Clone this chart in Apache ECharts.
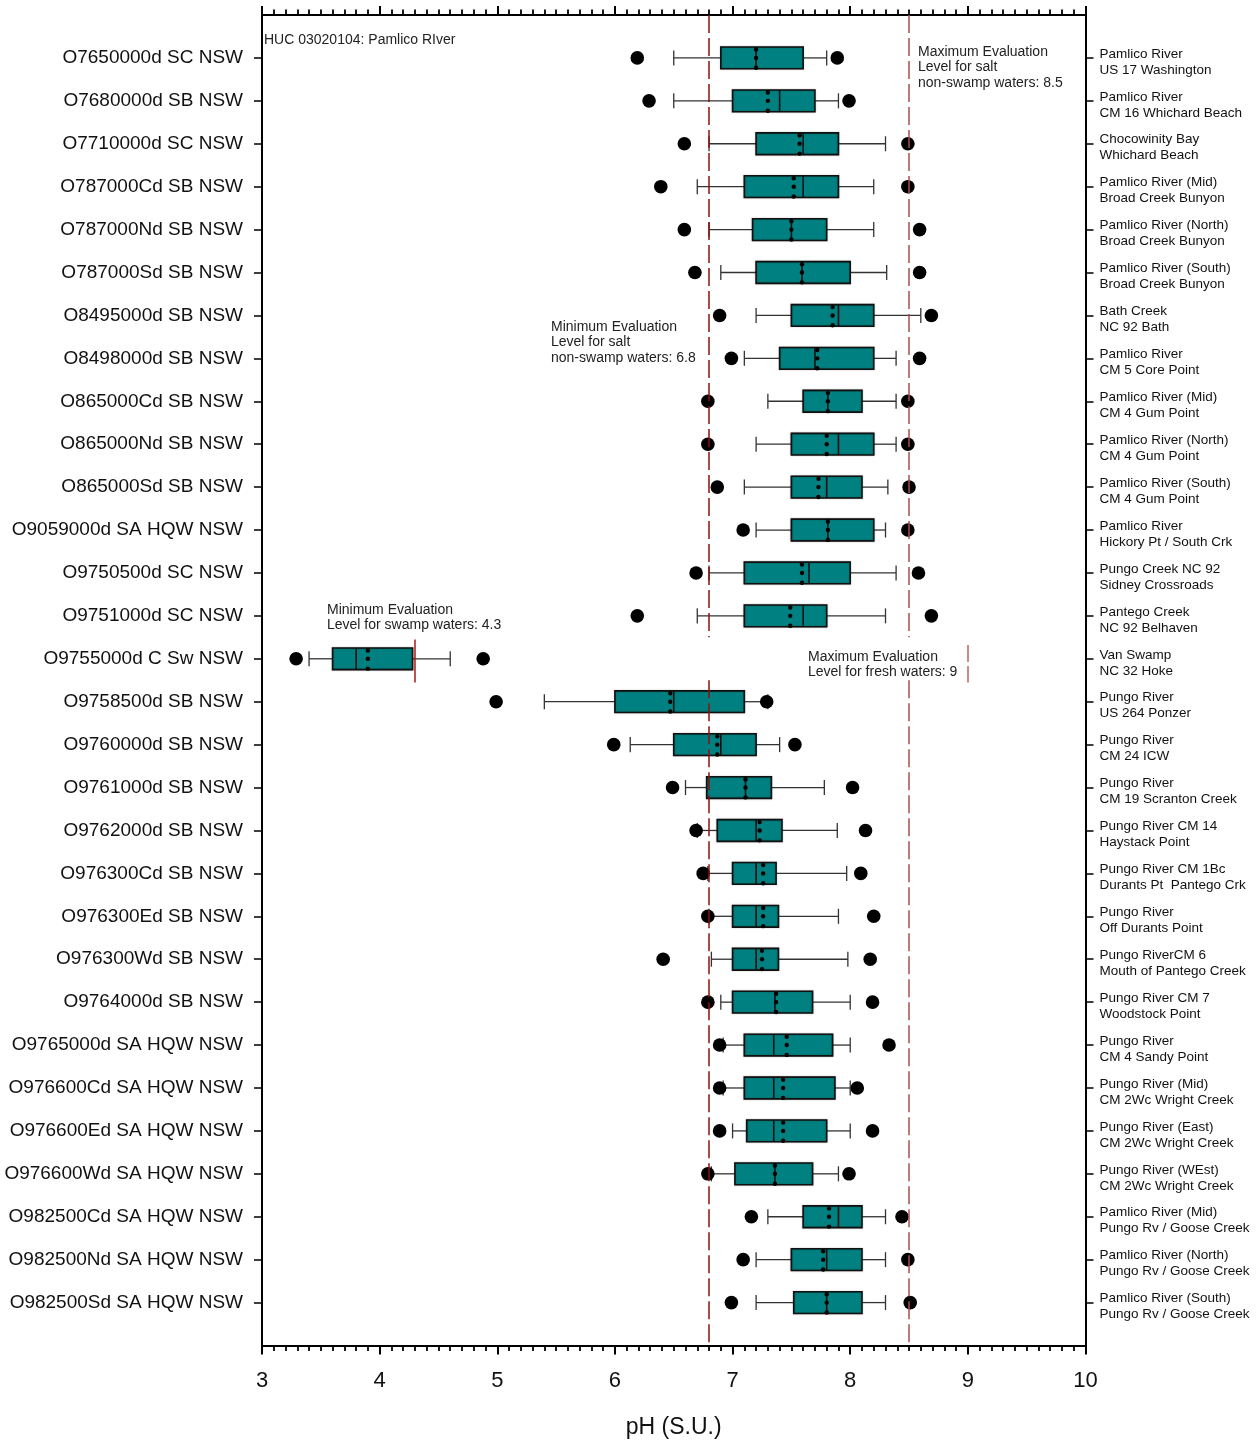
<!DOCTYPE html>
<html>
<head>
<meta charset="utf-8">
<title>pH by station - HUC 03020104 Pamlico River</title>
<script src="https://cdn.jsdelivr.net/npm/echarts@6/dist/echarts.min.js"></script>
<style>
  html, body { margin: 0; padding: 0; background: #ffffff; }
  #chart { width: 1257px; height: 1442px; }
</style>
</head>
<body>
<div id="chart"></div>
<script>
// Station identifiers (left axis), top to bottom
const stations = [
  'O7650000d SC NSW', 'O7680000d SB NSW', 'O7710000d SC NSW', 'O787000Cd SB NSW',
  'O787000Nd SB NSW', 'O787000Sd SB NSW', 'O8495000d SB NSW', 'O8498000d SB NSW',
  'O865000Cd SB NSW', 'O865000Nd SB NSW', 'O865000Sd SB NSW', 'O9059000d SA HQW NSW',
  'O9750500d SC NSW', 'O9751000d SC NSW', 'O9755000d C Sw NSW', 'O9758500d SB NSW',
  'O9760000d SB NSW', 'O9761000d SB NSW', 'O9762000d SB NSW', 'O976300Cd SB NSW',
  'O976300Ed SB NSW', 'O976300Wd SB NSW', 'O9764000d SB NSW', 'O9765000d SA HQW NSW',
  'O976600Cd SA HQW NSW', 'O976600Ed SA HQW NSW', 'O976600Wd SA HQW NSW',
  'O982500Cd SA HQW NSW', 'O982500Nd SA HQW NSW', 'O982500Sd SA HQW NSW'
];

// Station descriptions (right axis)
const sites = [
  'Pamlico River\nUS 17 Washington', 'Pamlico River\nCM 16 Whichard Beach',
  'Chocowinity Bay\nWhichard Beach', 'Pamlico River (Mid)\nBroad Creek Bunyon',
  'Pamlico River (North)\nBroad Creek Bunyon', 'Pamlico River (South)\nBroad Creek Bunyon',
  'Bath Creek\nNC 92 Bath', 'Pamlico River\nCM 5 Core Point',
  'Pamlico River (Mid)\nCM 4 Gum Point', 'Pamlico River (North)\nCM 4 Gum Point',
  'Pamlico River (South)\nCM 4 Gum Point', 'Pamlico River\nHickory Pt / South Crk',
  'Pungo Creek NC 92\nSidney Crossroads', 'Pantego Creek\nNC 92 Belhaven',
  'Van Swamp\nNC 32 Hoke', 'Pungo River\nUS 264 Ponzer', 'Pungo River\nCM 24 ICW',
  'Pungo River\nCM 19 Scranton Creek', 'Pungo River CM 14\nHaystack Point',
  'Pungo River CM 1Bc\nDurants Pt  Pantego Crk', 'Pungo River\nOff Durants Point',
  'Pungo RiverCM 6\nMouth of Pantego Creek', 'Pungo River CM 7\nWoodstock Point',
  'Pungo River\nCM 4 Sandy Point', 'Pungo River (Mid)\nCM 2Wc Wright Creek',
  'Pungo River (East)\nCM 2Wc Wright Creek', 'Pungo River (WEst)\nCM 2Wc Wright Creek',
  'Pamlico River (Mid)\nPungo Rv / Goose Creek', 'Pamlico River (North)\nPungo Rv / Goose Creek',
  'Pamlico River (South)\nPungo Rv / Goose Creek'
];

// pH statistics per station (S.U.)
const p5     = [6.19, 6.29, 6.59, 6.39, 6.59, 6.68, 6.89, 6.99, 6.79, 6.79, 6.87, 7.09, 6.69, 6.19, 3.29, 4.99, 5.99, 6.49, 6.69, 6.75, 6.79, 6.41, 6.79, 6.89, 6.89, 6.89, 6.79, 7.16, 7.09, 6.99];
const p10    = [6.50, 6.50, 6.80, 6.70, 6.80, 6.90, 7.20, 7.10, 7.30, 7.20, 7.10, 7.20, 6.80, 6.70, 3.40, 5.40, 6.13, 6.60, 6.70, 6.79, 6.80, 6.82, 6.90, 6.92, 6.92, 7.00, 6.82, 7.30, 7.20, 7.20];
const q1     = [6.90, 7.00, 7.20, 7.10, 7.17, 7.20, 7.50, 7.40, 7.60, 7.50, 7.50, 7.50, 7.10, 7.10, 3.60, 6.00, 6.50, 6.78, 6.87, 7.00, 7.00, 7.00, 7.00, 7.10, 7.10, 7.12, 7.02, 7.60, 7.50, 7.52];
const median = [7.20, 7.40, 7.60, 7.60, 7.50, 7.59, 7.90, 7.70, 7.81, 7.90, 7.80, 7.81, 7.65, 7.60, 3.80, 6.50, 6.90, 7.11, 7.20, 7.20, 7.20, 7.20, 7.36, 7.35, 7.35, 7.35, 7.36, 7.90, 7.80, 7.80];
const mean   = [7.20, 7.30, 7.57, 7.52, 7.50, 7.59, 7.85, 7.72, 7.81, 7.80, 7.73, 7.81, 7.59, 7.49, 3.90, 6.47, 6.87, 7.11, 7.23, 7.26, 7.26, 7.25, 7.37, 7.46, 7.43, 7.43, 7.36, 7.82, 7.77, 7.80];
const q3     = [7.60, 7.70, 7.90, 7.90, 7.80, 8.00, 8.20, 8.20, 8.10, 8.20, 8.10, 8.20, 8.00, 7.80, 4.28, 7.10, 7.20, 7.33, 7.42, 7.37, 7.39, 7.39, 7.68, 7.85, 7.87, 7.80, 7.68, 8.10, 8.10, 8.10];
const p90    = [7.80, 7.90, 8.30, 8.20, 8.20, 8.31, 8.60, 8.39, 8.39, 8.39, 8.32, 8.30, 8.39, 8.30, 4.60, 7.30, 7.40, 7.78, 7.89, 7.97, 7.90, 7.98, 8.00, 8.00, 8.00, 8.00, 7.90, 8.30, 8.30, 8.30];
const p95    = [7.89, 7.99, 8.49, 8.49, 8.59, 8.59, 8.69, 8.59, 8.49, 8.49, 8.50, 8.49, 8.58, 8.69, 4.88, 7.29, 7.53, 8.02, 8.13, 8.09, 8.20, 8.17, 8.19, 8.33, 8.06, 8.19, 7.99, 8.44, 8.49, 8.51];

// Evaluation levels
const saltMin = 6.8, saltMax = 8.5, swampMin = 4.3, freshMax = 9;
const swampRow = 14;

const rows = stations.map((_, i) => i);
const boxData = rows.map(i => [i, p5[i], p10[i], q1[i], median[i], mean[i], q3[i], p90[i], p95[i]]);

const FONT = '"Liberation Sans", Arial, sans-serif';
const TEAL = '#008080';

function renderBox(params, api) {
  const row = api.value(0);
  const px = k => api.coord([api.value(k), row])[0];
  const y = api.coord([api.value(4), row])[1];
  const band = api.size([0, 1])[1];
  const hb = band * 0.253;   // box half height
  const hc = band * 0.175;   // whisker cap half height
  const xp5 = px(1), xp10 = px(2), xq1 = px(3), xmed = px(4), xmean = px(5), xq3 = px(6), xp90 = px(7), xp95 = px(8);
  const wStyle = { stroke: '#333', lineWidth: 1.3 };
  const kids = [
    { type: 'line', shape: { x1: xp10, y1: y, x2: xq1, y2: y }, style: wStyle },
    { type: 'line', shape: { x1: xq3, y1: y, x2: xp90, y2: y }, style: wStyle },
    { type: 'line', shape: { x1: xp10, y1: y - hc, x2: xp10, y2: y + hc }, style: wStyle },
    { type: 'line', shape: { x1: xp90, y1: y - hc, x2: xp90, y2: y + hc }, style: wStyle },
    { type: 'rect', shape: { x: xq1, y: y - hb, width: xq3 - xq1, height: 2 * hb },
      style: { fill: TEAL, stroke: '#111', lineWidth: 1.6, shadowBlur: 1.5, shadowColor: 'rgba(0,0,0,0.35)' } },
    { type: 'line', shape: { x1: xmed, y1: y - hb, x2: xmed, y2: y + hb }, style: { stroke: '#111', lineWidth: 1.6 } },
    { type: 'circle', shape: { cx: xmean, cy: y - hb + 2.5, r: 2.2 }, style: { fill: '#000' } },
    { type: 'circle', shape: { cx: xmean, cy: y, r: 2.2 }, style: { fill: '#000' } },
    { type: 'circle', shape: { cx: xmean, cy: y + hb - 1, r: 2.2 }, style: { fill: '#000' } },
    { type: 'circle', shape: { cx: xp5, cy: y, r: 6.8 }, style: { fill: '#000' } },
    { type: 'circle', shape: { cx: xp95, cy: y, r: 6.8 }, style: { fill: '#000' } }
  ];
  return { type: 'group', children: kids };
}

function xAxisBase() {
  return {
    type: 'value', min: 3, max: 10, interval: 1,
    axisLine: { show: true, onZero: false, lineStyle: { color: '#000', width: 2 } },
    axisTick: { show: true, inside: false, length: 9, lineStyle: { color: '#000', width: 2 } },
    minorTick: { show: true, splitNumber: 10, length: 5.5, lineStyle: { color: '#000', width: 1.8 } },
    splitLine: { show: false },
    minorSplitLine: { show: false }
  };
}

function yAxisBase() {
  return {
    type: 'value', min: -1, max: 30, inverse: true,
    axisLine: { show: true, onZero: false, lineStyle: { color: '#000', width: 2 } },
    axisTick: { show: true, length: 8, customValues: rows, lineStyle: { color: '#000', width: 1.5 } },
    splitLine: { show: false }
  };
}

// Two-line site description, nudged slightly below the tick by a thin spacer line
function siteLabel(v) {
  const s = sites[v];
  if (!s) return '';
  const parts = s.split('\n');
  return '{gap|}\n' + parts.map(p => '{t|' + p + '}').join('\n');
}

const vSeg = (x, y1, y2, color, type) => [
  { coord: [x, y1], lineStyle: { color: color, width: 1.5, type: type } },
  { coord: [x, y2] }
];

const option = {
  animation: false,
  backgroundColor: '#ffffff',
  textStyle: { fontFamily: FONT },
  grid: { left: 262, right: 171.5, top: 15, bottom: 96.5, containLabel: false, outerBoundsMode: 'none' },
  xAxis: [
    Object.assign(xAxisBase(), {
      position: 'bottom',
      axisLabel: { show: true, fontSize: 22, margin: 24, color: '#111', fontFamily: FONT },
      name: 'pH (S.U.)', nameLocation: 'middle', nameGap: 71,
      nameTextStyle: { fontSize: 23, color: '#111', fontFamily: FONT }
    }),
    Object.assign(xAxisBase(), { position: 'top', axisLabel: { show: false } })
  ],
  yAxis: [
    Object.assign(yAxisBase(), {
      position: 'left',
      axisLabel: { show: true, customValues: rows, formatter: v => stations[v] || '',
        fontSize: 19, margin: 19, color: '#111', fontFamily: FONT }
    }),
    Object.assign(yAxisBase(), {
      position: 'right',
      axisLabel: { show: true, customValues: rows, formatter: siteLabel,
        margin: 14, align: 'left', color: '#111', fontFamily: FONT,
        rich: {
          gap: { height: 8, lineHeight: 8, fontSize: 1 },
          t: { fontSize: 13.5, lineHeight: 16, color: '#111', fontFamily: FONT }
        } }
    })
  ],
  series: [
    {
      type: 'custom',
      xAxisIndex: 0, yAxisIndex: 0,
      renderItem: renderBox,
      encode: { x: [1, 2, 3, 4, 5, 6, 7, 8], y: 0 },
      data: boxData,
      z: 2
    },
    {
      type: 'line',
      xAxisIndex: 0, yAxisIndex: 0,
      data: [],
      z: 5,
      markLine: {
        silent: true,
        symbol: ['none', 'none'],
        label: { show: false },
        animation: false,
        data: [
          vSeg(saltMin, -1, swampRow - 0.5, '#8b1010', [18, 5]),
          vSeg(saltMin, swampRow + 0.5, 30, '#8b1010', [18, 5]),
          vSeg(saltMax, -1, swampRow - 0.5, '#a4504e', [18, 5]),
          vSeg(saltMax, swampRow + 0.5, 30, '#a4504e', [18, 5]),
          vSeg(swampMin, swampRow - 0.45, swampRow + 0.55, '#b01515', 'solid'),
          vSeg(freshMax, swampRow - 0.32, swampRow + 0.55, '#c06262', [17, 4])
        ]
      }
    }
  ],
  graphic: [
    { type: 'text', x: 264, y: 33, style: { text: 'HUC 03020104: Pamlico RIver',
      font: '14px ' + FONT, fill: '#222', verticalAlign: 'top' } },
    { type: 'text', x: 918, y: 44, style: { text: 'Maximum Evaluation\nLevel for salt\nnon-swamp waters: 8.5',
      font: '14px ' + FONT, fill: '#222', lineHeight: 15.6, verticalAlign: 'top' } },
    { type: 'text', x: 551, y: 319, style: { text: 'Minimum Evaluation\nLevel for salt\nnon-swamp waters: 6.8',
      font: '14px ' + FONT, fill: '#222', lineHeight: 15.6, verticalAlign: 'top' } },
    { type: 'text', x: 327, y: 602, style: { text: 'Minimum Evaluation\nLevel for swamp waters: 4.3',
      font: '14px ' + FONT, fill: '#222', lineHeight: 15.6, verticalAlign: 'top' } },
    { type: 'text', x: 808, y: 649, style: { text: 'Maximum Evaluation\nLevel for fresh waters: 9',
      font: '14px ' + FONT, fill: '#222', lineHeight: 15.6, verticalAlign: 'top' } }
  ]
};

const chart = echarts.init(document.getElementById('chart'), null, { renderer: 'canvas' });
chart.setOption(option);
</script>
</body>
</html>
